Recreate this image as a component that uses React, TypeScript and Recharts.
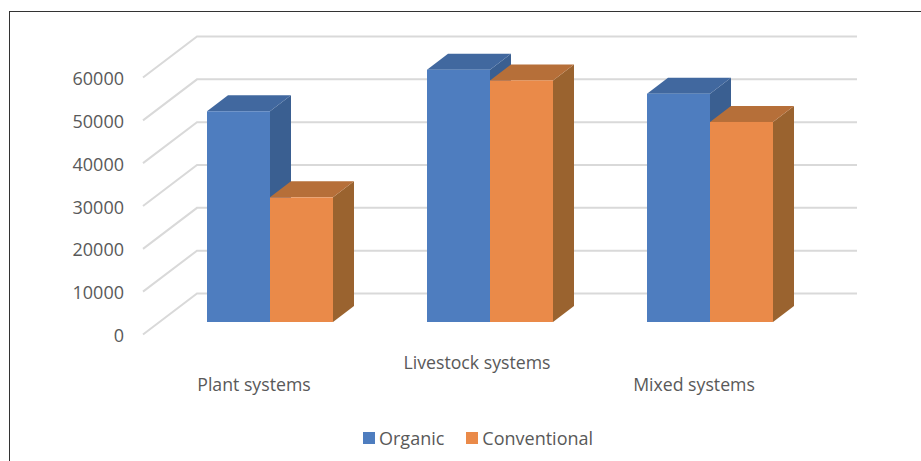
import { BarChart, Bar, XAxis, YAxis, CartesianGrid, Legend } from "recharts";

const categories = ["Plant systems", "Livestock systems", "Mixed systems"];
const organic = [49200, 58900, 53300];
const conventional = [29100, 56400, 46700];
const yTicks = [0, 10000, 20000, 30000, 40000, 50000, 60000];

const data = categories.map((name, i) => ({
    name,
    organic: organic[i],
    conventional: conventional[i],
}));

const FONT = "'Open Sans', sans-serif";
const TEXT = "#595959";

// how far a bar's back face sits from its front face
const DEPTH_X = 21;
const DEPTH_Y = 16;

// fake perspective of the wall and floor lines, relative to the plot area
const WALL_FRONT_X = -17;
const WALL_FRONT_Y = 12.5;
const WALL_BACK_X = 37;
const WALL_BACK_Y = -28.5;

function GridLine({ x1, x2, y1 }: any) {
    const points = [
        `${x1 + WALL_FRONT_X},${y1 + WALL_FRONT_Y}`,
        `${x1 + WALL_BACK_X},${y1 + WALL_BACK_Y}`,
        `${x2 + WALL_BACK_X},${y1 + WALL_BACK_Y}`,
    ].join(" ");
    return <polyline points={points} fill="none" stroke="#D9D9D9" strokeWidth={2} />;
}

function Box3D({ x, y, width, height, front, top, side }: any) {
    const right = x + width;
    const bottom = y + height;
    return (
        <g>
            <polygon
                points={`${right},${y} ${right + DEPTH_X},${y - DEPTH_Y} ${right + DEPTH_X},${bottom - DEPTH_Y} ${right},${bottom}`}
                fill={side}
            />
            <polygon
                points={`${x},${y} ${x + DEPTH_X},${y - DEPTH_Y} ${right + DEPTH_X},${y - DEPTH_Y} ${right},${y}`}
                fill={top}
            />
            <rect x={x} y={y} width={width} height={height} fill={front} />
        </g>
    );
}

function ValueTick({ x, y, payload }: any) {
    return (
        <text x={x} y={y + 20} textAnchor="end" fill={TEXT} fontFamily={FONT} fontSize={18}>
            {payload.value}
        </text>
    );
}

// the middle label sits higher, like a staggered category axis
function CategoryTick({ x, y, payload, index }: any) {
    return (
        <text
            x={x + (index === 1 ? -13 : -16)}
            y={y + (index === 1 ? 45 : 67)}
            textAnchor="middle"
            fill={TEXT}
            fontFamily={FONT}
            fontSize={17.7}
        >
            {payload.value}
        </text>
    );
}

function LegendRow({ payload }: any) {
    return (
        <div style={{ display: "flex", alignItems: "center", fontFamily: FONT, fontSize: 18, color: TEXT }}>
            {payload.map((item: any, i: number) => (
                <div key={item.value} style={{ display: "flex", alignItems: "center", marginRight: i === 0 ? 22 : 0 }}>
                    <span style={{ width: 12, height: 12, background: item.color, marginRight: 4 }} />
                    <span>{item.value}</span>
                </div>
            ))}
        </div>
    );
}

export default function App() {
    return (
        <div style={{ position: "absolute", left: 0, top: 0, width: 921, height: 461, background: "#fff", overflow: "hidden" }}>
            <div
                style={{
                    position: "absolute",
                    left: 9,
                    top: 11,
                    right: 0,
                    bottom: 0,
                    borderTop: "1px solid #333",
                    borderLeft: "1px solid #333",
                }}
            />
            <BarChart
                width={921}
                height={461}
                data={data}
                barSize={63}
                barGap={0}
                margin={{ top: 65, right: 101, bottom: 99, left: 0 }}
                style={{ position: "absolute", left: 0, top: 0 }}
            >
                <CartesianGrid vertical={false} horizontal={(props: any) => <GridLine key={props.index} {...props} />} />
                <XAxis dataKey="name" height={40} axisLine={false} tickLine={false} tickSize={0} interval={0} tick={CategoryTick} />
                <YAxis
                    width={160}
                    domain={[0, 60000]}
                    ticks={yTicks}
                    axisLine={false}
                    tickLine={false}
                    tickSize={0}
                    tickMargin={36}
                    tick={ValueTick}
                />
                <Legend
                    verticalAlign="middle"
                    content={LegendRow}
                    itemSorter={null}
                    wrapperStyle={{ left: 363, top: 426, width: "auto" }}
                />
                <Bar
                    dataKey="organic"
                    name="Organic"
                    fill="#4E7DBF"
                    isAnimationActive={false}
                    shape={(p: any) => <Box3D {...p} front="#4E7DBF" top="#41689F" side="#3A5F91" />}
                />
                <Bar
                    dataKey="conventional"
                    name="Conventional"
                    fill="#EA8A49"
                    isAnimationActive={false}
                    shape={(p: any) => <Box3D {...p} front="#EA8A49" top="#B66F39" side="#9A632F" />}
                />
            </BarChart>
        </div>
    );
}
